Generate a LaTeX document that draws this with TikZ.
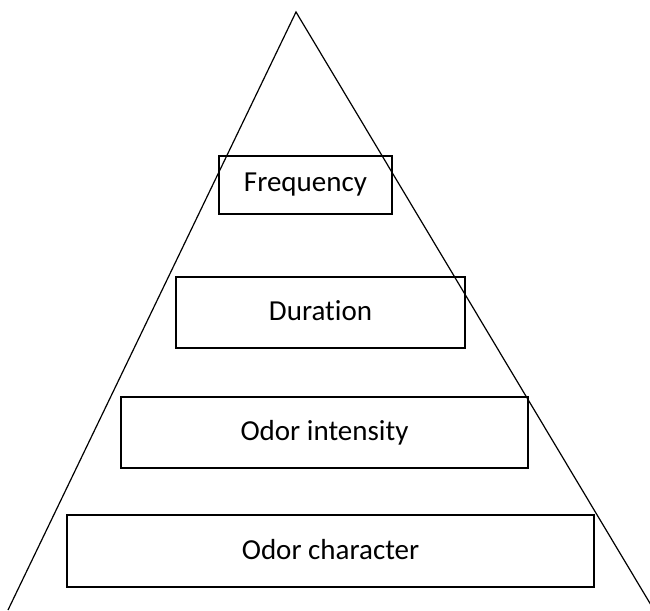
\documentclass[tikz,border=0pt]{standalone}
\usepackage{fontspec}
\setmainfont[Ligatures=NoCommon]{Carlito}
\begin{document}
\begin{tikzpicture}[x=1pt,y=-1pt,
  lyr/.style={draw=black,line width=1.2pt,fill=none,inner sep=0pt,font=\fontsize{29}{32}\selectfont},
  edge/.style={line width=1.2pt}]
\useasboundingbox (0,0) rectangle (650,610);
\coordinate (apex) at (296,12);
\coordinate (bl) at (8,610);
\coordinate (br) at (654,610);
\draw[edge] (bl) -- (apex) -- (br);
\node[lyr,minimum width=173pt,minimum height=58pt] (freq) at (305.5,185) {Frequency};
\node[lyr,minimum width=289pt,minimum height=71pt] (dur) at (320.5,312.5) {\raisebox{4pt}{Duration}};
\node[lyr,minimum width=407pt,minimum height=71pt] (int) at (324.5,432.5) {\raisebox{3pt}{Odor intensity}};
\node[lyr,minimum width=527pt,minimum height=72pt] (chr) at (330.5,551) {\raisebox{3pt}{Odor character}};
\end{tikzpicture}
\end{document}
